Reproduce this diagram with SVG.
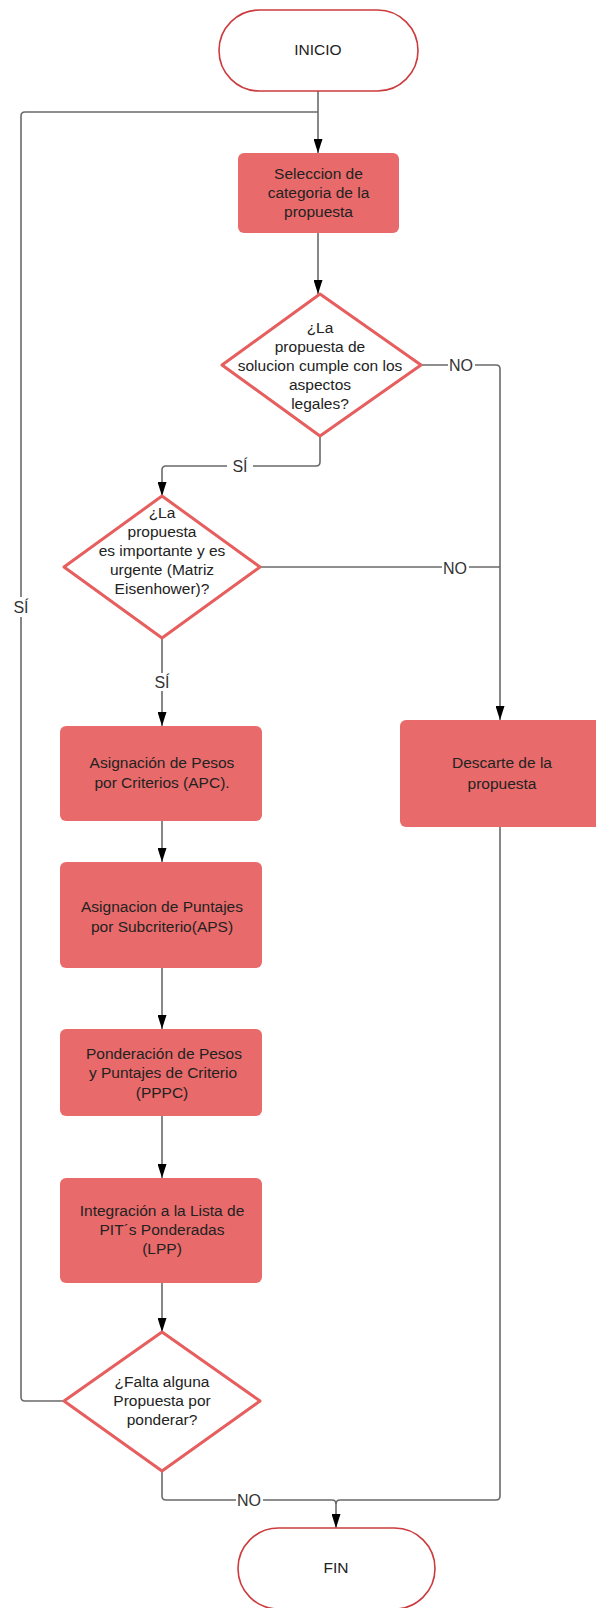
<svg xmlns="http://www.w3.org/2000/svg" width="596" height="1608" viewBox="0 0 596 1608">
<defs>
<style>
.term{fill:#ffffff;stroke:#cc3b3d;stroke-width:1.6}
.proc{fill:#e96a6a;stroke:none}
.dec{fill:#ffffff;stroke:#e65e5e;stroke-width:3;stroke-linejoin:round}
.t{font-family:"Liberation Sans",Arial,sans-serif;font-size:15.5px;fill:#222222;text-anchor:middle}
.lbl{font-family:"Liberation Sans",Arial,sans-serif;font-size:16px;fill:#333333;text-anchor:middle}
.c{fill:none;stroke:#6a6a6a;stroke-width:1.6}
.bg{fill:#ffffff}
</style>
<marker id="arr" viewBox="0 0 14 9" refX="14" refY="4.5" markerWidth="14" markerHeight="9" markerUnits="userSpaceOnUse" orient="auto">
<path d="M0,0 L14,4.5 L0,9 z" fill="#000000"/>
</marker>
</defs>

<g id="connectors">
<path class="c" d="M318,91 V153" marker-end="url(#arr)"/>
<path class="c" d="M64,1401 H25 Q21,1401 21,1397 V116 Q21,112 25,112 H318"/>
<path class="c" d="M318,233 V294" marker-end="url(#arr)"/>
<path class="c" d="M320,436 V462 Q320,466 316,466 H166 Q162,466 162,470 V496" marker-end="url(#arr)"/>
<path class="c" d="M421,365 H496 Q500,365 500,369 V720" marker-end="url(#arr)"/>
<path class="c" d="M260,567 H500"/>
<path class="c" d="M162,638 V726" marker-end="url(#arr)"/>
<path class="c" d="M162,821 V862" marker-end="url(#arr)"/>
<path class="c" d="M162,968 V1029" marker-end="url(#arr)"/>
<path class="c" d="M162,1116 V1178" marker-end="url(#arr)"/>
<path class="c" d="M162,1283 V1332" marker-end="url(#arr)"/>
<path class="c" d="M162,1471 V1496 Q162,1500 166,1500 H332 Q336,1500 336,1504 V1528" marker-end="url(#arr)"/>
<path class="c" d="M500,827 V1496 Q500,1500 496,1500 H340 Q336,1500 336,1504"/>
<rect class="bg" x="227" y="457" width="26" height="18"/>
<text class="lbl" x="240" y="472">SÍ</text>
<rect class="bg" x="448" y="356" width="27" height="18"/>
<text class="lbl" x="461" y="371">NO</text>
<rect class="bg" x="442" y="558" width="27" height="18"/>
<text class="lbl" x="455" y="574">NO</text>
<rect class="bg" x="150" y="673" width="24" height="18"/>
<text class="lbl" x="162" y="688">SÍ</text>
<rect class="bg" x="10" y="597" width="22" height="20"/>
<text class="lbl" x="21" y="613">SÍ</text>
<rect class="bg" x="236" y="1491" width="27" height="18"/>
<text class="lbl" x="249" y="1506">NO</text>
</g>

<g id="inicio">
<rect class="term" x="219" y="10" width="199" height="81" rx="40.5"/>
<text class="t" x="318" y="54.5">INICIO</text>
</g>

<g id="seleccion">
<rect class="proc" x="238" y="153" width="161" height="80" rx="6"/>
<text class="t" x="318.5" y="178.5">Seleccion de</text>
<text class="t" x="318.5" y="197.5">categoria de la</text>
<text class="t" x="318.5" y="216.5">propuesta</text>
</g>

<g id="decision-legal">
<polygon class="dec" points="320,294 421,365 320,436 222,365"/>
<text class="t" x="320" y="332.5">¿La</text>
<text class="t" x="320" y="351.5">propuesta de</text>
<text class="t" x="320" y="370.5">solucion cumple con los</text>
<text class="t" x="320" y="389.5">aspectos</text>
<text class="t" x="320" y="408.5">legales?</text>
</g>

<g id="decision-eisenhower">
<polygon class="dec" points="162,496 260,567 162,638 64,567"/>
<text class="t" x="162" y="517.5">¿La</text>
<text class="t" x="162" y="536.5">propuesta</text>
<text class="t" x="162" y="555.5">es importante y es</text>
<text class="t" x="162" y="574.5">urgente (Matriz</text>
<text class="t" x="162" y="593.5">Eisenhower)?</text>
</g>

<g id="apc">
<rect class="proc" x="60" y="726" width="202" height="95" rx="6"/>
<text class="t" x="162" y="767.5">Asignación de Pesos</text>
<text class="t" x="162" y="787.5">por Criterios (APC).</text>
</g>

<g id="descarte">
<rect class="proc" x="400" y="720" width="206" height="107" rx="6"/>
<text class="t" x="502" y="767.5">Descarte de la</text>
<text class="t" x="502" y="788.5">propuesta</text>
</g>

<g id="aps">
<rect class="proc" x="60" y="862" width="202" height="106" rx="6"/>
<text class="t" x="162" y="911.5">Asignacion de Puntajes</text>
<text class="t" x="162" y="931.5">por Subcriterio(APS)</text>
</g>

<g id="pppc">
<rect class="proc" x="60" y="1029" width="202" height="87" rx="6"/>
<text class="t" x="164" y="1058.5">Ponderación de Pesos</text>
<text class="t" x="163" y="1077.5">y Puntajes de Criterio</text>
<text class="t" x="162" y="1097.5">(PPPC)</text>
</g>

<g id="lpp">
<rect class="proc" x="60" y="1178" width="202" height="105" rx="6"/>
<text class="t" x="162" y="1215.5">Integración a la Lista de</text>
<text class="t" x="162" y="1234.5">PIT´s Ponderadas</text>
<text class="t" x="162" y="1253.5">(LPP)</text>
</g>

<g id="decision-falta">
<polygon class="dec" points="162,1332 260,1401 162,1471 64,1401"/>
<text class="t" x="162" y="1386.5">¿Falta alguna</text>
<text class="t" x="162" y="1405.5">Propuesta por</text>
<text class="t" x="162" y="1424.5">ponderar?</text>
</g>

<g id="fin">
<rect class="term" x="238" y="1528" width="197" height="81" rx="40.5"/>
<text class="t" x="336" y="1572.5">FIN</text>
</g>
</svg>
